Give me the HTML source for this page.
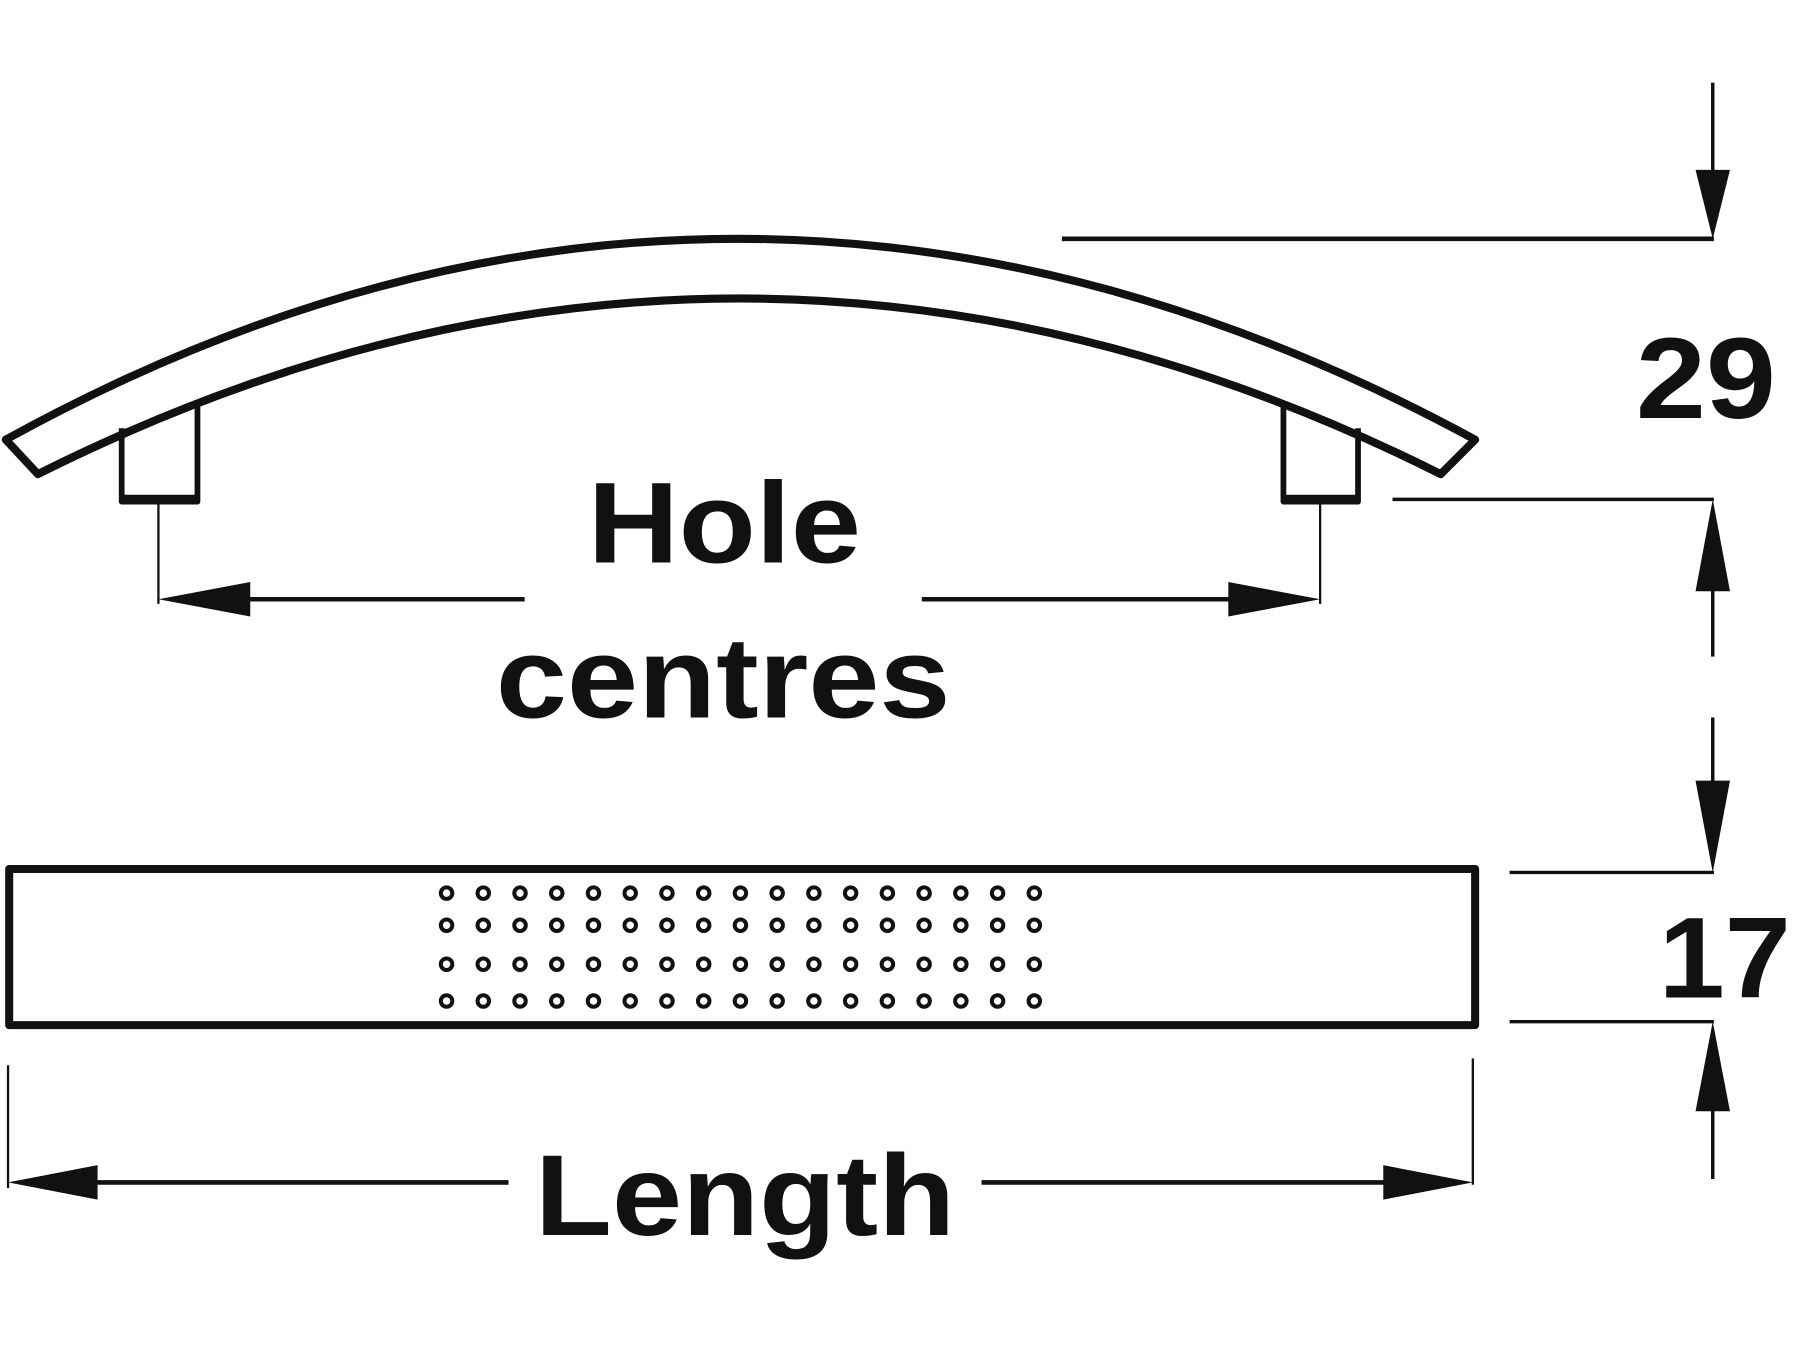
<!DOCTYPE html>
<html><head><meta charset="utf-8"><style>html,body{margin:0;padding:0;background:#fff}svg{display:block}</style></head>
<body>
<svg width="1800" height="1350" viewBox="0 0 1568 1176" xmlns="http://www.w3.org/2000/svg" font-family="Liberation Sans, Arial, sans-serif" font-weight="bold">
<g fill="none" stroke="#111" stroke-linejoin="round">
  <path d="M5,383 Q640,33 1285,383 L1255,413 Q645,107 33,413 Z" stroke-width="7"/>
  <path d="M106,373 L106,437 L172,437 L172,350" stroke-width="5"/>
  <path d="M1118,352 L1118,437 L1183,437 L1183,373" stroke-width="5"/>
  <line x1="106" y1="434" x2="172" y2="434" stroke-width="6"/>
  <line x1="1118" y1="434" x2="1183" y2="434" stroke-width="6"/>
  <line x1="138" y1="437" x2="138" y2="526" stroke-width="2"/>
  <line x1="1150" y1="437" x2="1150" y2="526" stroke-width="2"/>
  <line x1="180" y1="522" x2="457" y2="522" stroke-width="4"/>
  <line x1="803" y1="522" x2="1110" y2="522" stroke-width="4"/>
  <line x1="1492" y1="72" x2="1492" y2="170" stroke-width="3"/>
  <line x1="925" y1="208" x2="1493" y2="208" stroke-width="4"/>
  <line x1="1213" y1="435" x2="1493" y2="435" stroke-width="3"/>
  <line x1="1492" y1="500" x2="1492" y2="572" stroke-width="3"/>
  <line x1="1492" y1="625" x2="1492" y2="700" stroke-width="3"/>
  <line x1="1315" y1="760" x2="1493" y2="760" stroke-width="3"/>
  <line x1="1315" y1="890" x2="1493" y2="890" stroke-width="3"/>
  <line x1="1492" y1="950" x2="1492" y2="1027" stroke-width="3"/>
  <rect x="8" y="757" width="1277" height="136" stroke-width="7"/>
  <line x1="7" y1="928" x2="7" y2="1035" stroke-width="2"/>
  <line x1="1283" y1="922" x2="1283" y2="1032" stroke-width="2"/>
  <line x1="60" y1="1030" x2="443" y2="1030" stroke-width="4"/>
  <line x1="855" y1="1030" x2="1230" y2="1030" stroke-width="4"/>
</g>
<g fill="#111">
  <polygon points="138,522 218,507 218,537"/>
  <polygon points="1150,522 1070,507 1070,537"/>
  <polygon points="1492,208 1477,148 1507,148"/>
  <polygon points="1492,435 1477,515 1507,515"/>
  <polygon points="1492,760 1477,680 1507,680"/>
  <polygon points="1492,890 1477,968 1507,968"/>
  <polygon points="7,1030 85,1015 85,1045"/>
  <polygon points="1283,1030 1205,1015 1205,1045"/>
</g>
<g fill="none" stroke="#111" stroke-width="3.5">
<defs><g id="row">
<circle cx="389" cy="0" r="5"/><circle cx="421" cy="0" r="5"/><circle cx="453" cy="0" r="5"/><circle cx="485" cy="0" r="5"/><circle cx="517" cy="0" r="5"/><circle cx="549" cy="0" r="5"/><circle cx="581" cy="0" r="5"/><circle cx="613" cy="0" r="5"/><circle cx="645" cy="0" r="5"/><circle cx="677" cy="0" r="5"/><circle cx="709" cy="0" r="5"/><circle cx="741" cy="0" r="5"/><circle cx="773" cy="0" r="5"/><circle cx="805" cy="0" r="5"/><circle cx="837" cy="0" r="5"/><circle cx="869" cy="0" r="5"/><circle cx="901" cy="0" r="5"/>
</g></defs>
<use href="#row" y="778"/><use href="#row" y="806"/><use href="#row" y="840"/><use href="#row" y="872"/>
</g>
<g fill="#111" font-size="100">
  <text x="1425" y="364" textLength="122" lengthAdjust="spacingAndGlyphs">29</text>
  <text x="1445" y="869" textLength="115" lengthAdjust="spacingAndGlyphs">17</text>
  <text x="512" y="490" textLength="238" lengthAdjust="spacingAndGlyphs">Hole</text>
  <text x="432" y="625" textLength="396" lengthAdjust="spacingAndGlyphs">centres</text>
  <text x="466" y="1076" textLength="366" lengthAdjust="spacingAndGlyphs">Length</text>
</g>
</svg>
</body></html>
